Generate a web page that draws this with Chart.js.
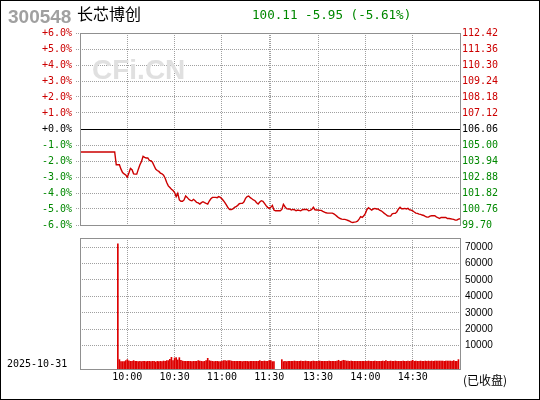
<!DOCTYPE html>
<html><head><meta charset="utf-8">
<script src="https://cdn.jsdelivr.net/npm/chart.js@4.4.0/dist/chart.umd.min.js"></script>
<style>
html,body{margin:0;padding:0;background:#fff;}
#wrap{position:relative;width:540px;height:400px;overflow:hidden;background:#fff;}
#c1{position:absolute;left:0;top:0;}
#c2{position:absolute;left:0;top:227px;}
#frame{position:absolute;left:0;top:0;width:540px;height:400px;box-sizing:border-box;border:1px solid #000;pointer-events:none;}
</style></head><body>
<div id="wrap">
<canvas id="c1" width="540" height="235"></canvas>
<canvas id="c2" width="540" height="173"></canvas>
<div id="frame"></div>
</div>
<script>
// ---------- data ----------
const stockCode = '300548';
const stockName = '长芯博创';
const tradeDate = '2025-10-31';
const statusText = '(已收盘)';
const prevClose = 106.06;

const priceTickLabels = ['112.42','111.36','110.30','109.24','108.18','107.12','106.06','105.00','103.94','102.88','101.82','100.76','99.70'];
const pctTickLabels = ['+6.0%','+5.0%','+4.0%','+3.0%','+2.0%','+1.0%','+0.0%','-1.0%','-2.0%','-3.0%','-4.0%','-5.0%','-6.0%'];
const volTickValues = [70000,60000,50000,40000,30000,20000,10000];
const timeTicks = ['10:00','10:30','11:00','11:30','13:00','13:30','14:00','14:30'];
const timeTickShown = ['10:00','10:30','11:00','11:30','','13:30','14:00','14:30'];

// minute categories 9:30-11:30, 13:00-15:00
const minuteLabels = [];
function pushRange(h0, m0, h1, m1){
  for (let t = h0*60+m0; t <= h1*60+m1; t++){
    const h = Math.floor(t/60), m = t%60;
    minuteLabels.push(h + ':' + (m<10?'0':'') + m);
  }
}
pushRange(9,30,11,30);
pushRange(13,0,15,0);

const priceValues = [
104.54,104.54,104.54,104.54,104.54,104.54,104.54,104.54,104.54,104.54,
104.54,104.54,104.54,104.54,104.54,104.54,104.54,104.54,104.54,104.54,
104.54,104.54,104.54,103.69,103.69,103.69,103.40,103.18,103.09,103.02,
102.87,103.14,103.45,103.36,103.09,103.07,103.07,103.40,103.69,103.91,
104.25,104.18,104.14,104.14,103.98,103.96,103.85,103.63,103.40,103.31,
103.25,103.14,103.09,103.00,102.80,102.51,102.29,102.18,102.07,101.98,
101.85,101.58,101.80,101.36,101.27,101.27,101.36,101.62,101.53,101.40,
101.33,101.31,101.40,101.31,101.20,101.16,101.09,101.18,101.24,101.18,
101.13,101.09,101.29,101.44,101.53,101.53,101.53,101.51,101.58,101.53,
101.44,101.31,101.16,101.00,100.82,100.73,100.73,100.76,100.87,100.91,
101.00,101.11,101.13,101.13,101.24,101.47,101.58,101.62,101.51,101.44,
101.36,101.31,101.18,101.09,101.22,101.31,101.27,101.13,100.98,100.87,
100.80,100.87,101.00,100.69,100.64,100.64,100.64,100.64,100.73,101.07,
100.91,100.78,100.76,100.76,100.69,100.73,100.71,100.64,100.69,100.67,
100.64,100.71,100.73,100.73,100.73,100.64,100.67,100.73,100.87,100.71,
100.69,100.69,100.67,100.67,100.60,100.56,100.51,100.49,100.49,100.49,
100.49,100.44,100.36,100.27,100.18,100.13,100.09,100.07,100.07,100.04,
100.00,99.96,99.89,99.87,99.89,99.91,99.96,100.09,100.25,100.20,
100.31,100.47,100.73,100.84,100.76,100.69,100.76,100.80,100.76,100.76,
100.69,100.64,100.56,100.47,100.40,100.31,100.29,100.29,100.44,100.47,
100.47,100.58,100.76,100.87,100.78,100.78,100.80,100.76,100.80,100.71,
100.69,100.64,100.56,100.49,100.47,100.42,100.40,100.36,100.33,100.27,
100.22,100.22,100.29,100.31,100.31,100.31,100.24,100.18,100.13,100.20,
100.20,100.20,100.20,100.13,100.13,100.11,100.09,100.07,100.02,100.02,
100.09,100.11
];

const volumeValues = [
null,null,null,null,null,null,null,null,null,null,
null,null,null,null,null,null,null,null,null,null,
null,null,null,null,72000,1500,300,300,300,900,
1500,700,450,450,900,450,450,300,450,300,
450,450,300,450,450,300,450,450,100,450,
300,450,300,650,450,900,900,1700,2900,900,
2500,2700,1300,2700,1100,650,450,450,450,450,
450,300,450,450,450,900,650,450,300,450,
900,2300,900,650,450,300,450,450,300,300,
450,900,900,650,900,900,650,450,450,450,
450,450,450,300,450,450,450,300,450,450,
450,450,450,450,900,450,450,650,450,450,
900,900,300,300,null,null,null,null,1500,300,
450,300,450,450,450,450,650,450,450,450,
650,450,450,650,450,450,300,450,650,450,
450,450,650,450,450,450,450,450,650,450,
450,450,450,650,1100,450,650,1100,900,650,
650,450,650,450,450,450,450,450,450,450,
450,450,450,650,450,450,450,650,450,450,
450,450,650,450,900,450,450,650,450,450,
650,450,450,450,450,650,450,450,650,450,
650,1100,450,650,450,450,650,450,450,650,
450,650,450,650,450,650,650,650,650,650,
650,450,650,650,650,650,450,900,450,450,
1500,null
];

// ---------- derived ----------
const priceTickValues = priceTickLabels.map(Number);
const priceMin = Math.min(...priceTickValues), priceMax = Math.max(...priceTickValues);
const VOL_MIN = -4200, VOL_MAX = 75500;
const gridIdx = timeTicks.map(t => minuteLabels.indexOf(t));
const lastPrice = priceValues[priceValues.length-1];
const chg = lastPrice - prevClose;
const quoteText = lastPrice.toFixed(2) + ' ' + chg.toFixed(2) + ' (' + (chg/prevClose*100).toFixed(2) + '%)';

const RED = '#cc0000', GREEN = '#008800', GRID = '#a0a0a0';
function valColor(v){ return v > prevClose + 1e-9 ? RED : (v < prevClose - 1e-9 ? GREEN : '#000'); }
function isBase(ctx){ return ctx && ctx.tick && Math.abs(ctx.tick.value - prevClose) < 1e-9; }

const MONO = 'DejaVu Sans Mono';
Chart.defaults.font.family = MONO;

const framePlugin = {
  id: 'frame',
  afterDraw(chart){
    const {ctx, chartArea: a} = chart;
    ctx.save();
    ctx.strokeStyle = '#909090';
    ctx.lineWidth = 1;
    ctx.strokeRect(a.left + 0.5, a.top + 0.5, a.right - a.left, a.bottom - a.top);
    ctx.restore();
  }
};

const headerPlugin = {
  id: 'header',
  beforeDatasetsDraw(chart){
    const ctx = chart.ctx;
    ctx.save();
    ctx.font = 'bold 28px "Liberation Sans"';
    ctx.fillStyle = '#e0e0e0';
    ctx.textBaseline = 'alphabetic';
    ctx.fillText('CFi.CN', 92, 79);
    ctx.restore();
  },
  afterDraw(chart){
    const ctx = chart.ctx;
    ctx.save();
    ctx.textBaseline = 'alphabetic';
    ctx.font = 'bold 19px "Liberation Sans"';
    ctx.fillStyle = '#a0a0a0';
    ctx.fillText(stockCode, 8, 23);
    ctx.font = '16px "Noto Sans CJK SC"';
    ctx.fillStyle = '#000';
    ctx.fillText(stockName, 77, 20);
    ctx.font = '12.6px "' + MONO + '"';
    ctx.fillStyle = GREEN;
    ctx.fillText(quoteText, 252, 19);
    ctx.restore();
  }
};

const footerPlugin = {
  id: 'footer',
  afterDraw(chart){
    const ctx = chart.ctx;
    ctx.save();
    ctx.textBaseline = 'alphabetic';
    ctx.fillStyle = '#000';
    ctx.font = '10px "' + MONO + '"';
    ctx.fillText(tradeDate, 7, 140);
    ctx.font = '12px "Noto Sans CJK SC"';
    ctx.fillText(statusText, 463, 158);
    ctx.restore();
  }
};

const setPriceTicks = ax => { ax.ticks = priceTickValues.map(v => ({value: v})); };
const setTimeTicks = ax => { ax.ticks = gridIdx.map(v => ({value: v})); };

new Chart(document.getElementById('c1'), {
  type: 'line',
  data: {
    labels: minuteLabels,
    datasets: [{
      data: priceValues, yAxisID: 'yR', borderColor: RED, borderWidth: 1.4,
      pointRadius: 0, tension: 0, fill: false
    }]
  },
  options: {
    responsive: false, animation: false, events: [],
    layout: {padding: {top: 33, bottom: 10, left: 0, right: 0}},
    plugins: {legend: {display: false}, tooltip: {enabled: false}},
    scales: {
      x: {
        type: 'category', offset: false,
        grid: {offset: false, color: GRID, drawTicks: false},
        border: {display: false, dash: [1, 1]},
        ticks: {display: false, autoSkip: false},
        afterBuildTicks: setTimeTicks,
        afterFit: ax => { ax.height = 0; }
      },
      yL: {
        position: 'left', min: priceMin, max: priceMax,
        afterBuildTicks: setPriceTicks,
        afterFit: ax => { ax.width = 80; },
        grid: {
          color: ctx => isBase(ctx) ? '#000' : GRID,
          drawTicks: true, tickLength: 4,
          tickColor: ctx => isBase(ctx) ? 'rgba(0,0,0,0)' : GRID,
          tickBorderDash: [1, 1]
        },
        border: {display: false, dash: ctx => isBase(ctx) ? [] : [1, 1]},
        ticks: {
          padding: 4, font: {family: MONO, size: 10},
          color: ctx => valColor(ctx.tick.value),
          callback: v => pctTickLabels[priceTickValues.indexOf(v)]
        }
      },
      yR: {
        position: 'right', min: priceMin, max: priceMax,
        afterBuildTicks: setPriceTicks,
        afterFit: ax => { ax.width = 80; },
        grid: {display: false, drawTicks: false},
        border: {display: false},
        ticks: {
          padding: 2, font: {family: MONO, size: 10},
          color: ctx => valColor(ctx.tick.value),
          callback: v => priceTickLabels[priceTickValues.indexOf(v)]
        }
      }
    }
  },
  plugins: [headerPlugin, framePlugin]
});

new Chart(document.getElementById('c2'), {
  type: 'bar',
  data: {
    labels: minuteLabels,
    datasets: [{
      data: volumeValues, yAxisID: 'yV', backgroundColor: '#dd0000',
      barThickness: 1, borderWidth: 0, base: VOL_MIN
    }]
  },
  options: {
    responsive: false, animation: false, events: [],
    layout: {padding: {top: 11, left: 80, right: 0, bottom: 0}},
    plugins: {legend: {display: false}, tooltip: {enabled: false}},
    scales: {
      x: {
        type: 'category', offset: false,
        grid: {offset: false, color: GRID, drawTicks: false},
        border: {display: false, dash: [1, 1]},
        ticks: {
          autoSkip: false, maxRotation: 0, padding: 2, color: '#000',
          font: {family: MONO, size: 10},
          callback: v => { const k = gridIdx.indexOf(v); return k >= 0 ? timeTickShown[k] : ''; }
        },
        afterBuildTicks: setTimeTicks,
        afterFit: ax => { ax.height = 31; }
      },
      yV: {
        position: 'right', min: VOL_MIN, max: VOL_MAX,
        afterBuildTicks: ax => { ax.ticks = volTickValues.slice().reverse().map(v => ({value: v})); },
        afterFit: ax => { ax.width = 80; },
        grid: {color: GRID, drawTicks: false},
        border: {display: false, dash: [1, 1]},
        ticks: {padding: 5, color: '#000', font: {family: 'Liberation Sans', size: 10}, callback: v => String(v)}
      }
    }
  },
  plugins: [footerPlugin, framePlugin]
});
</script>
</body></html>
